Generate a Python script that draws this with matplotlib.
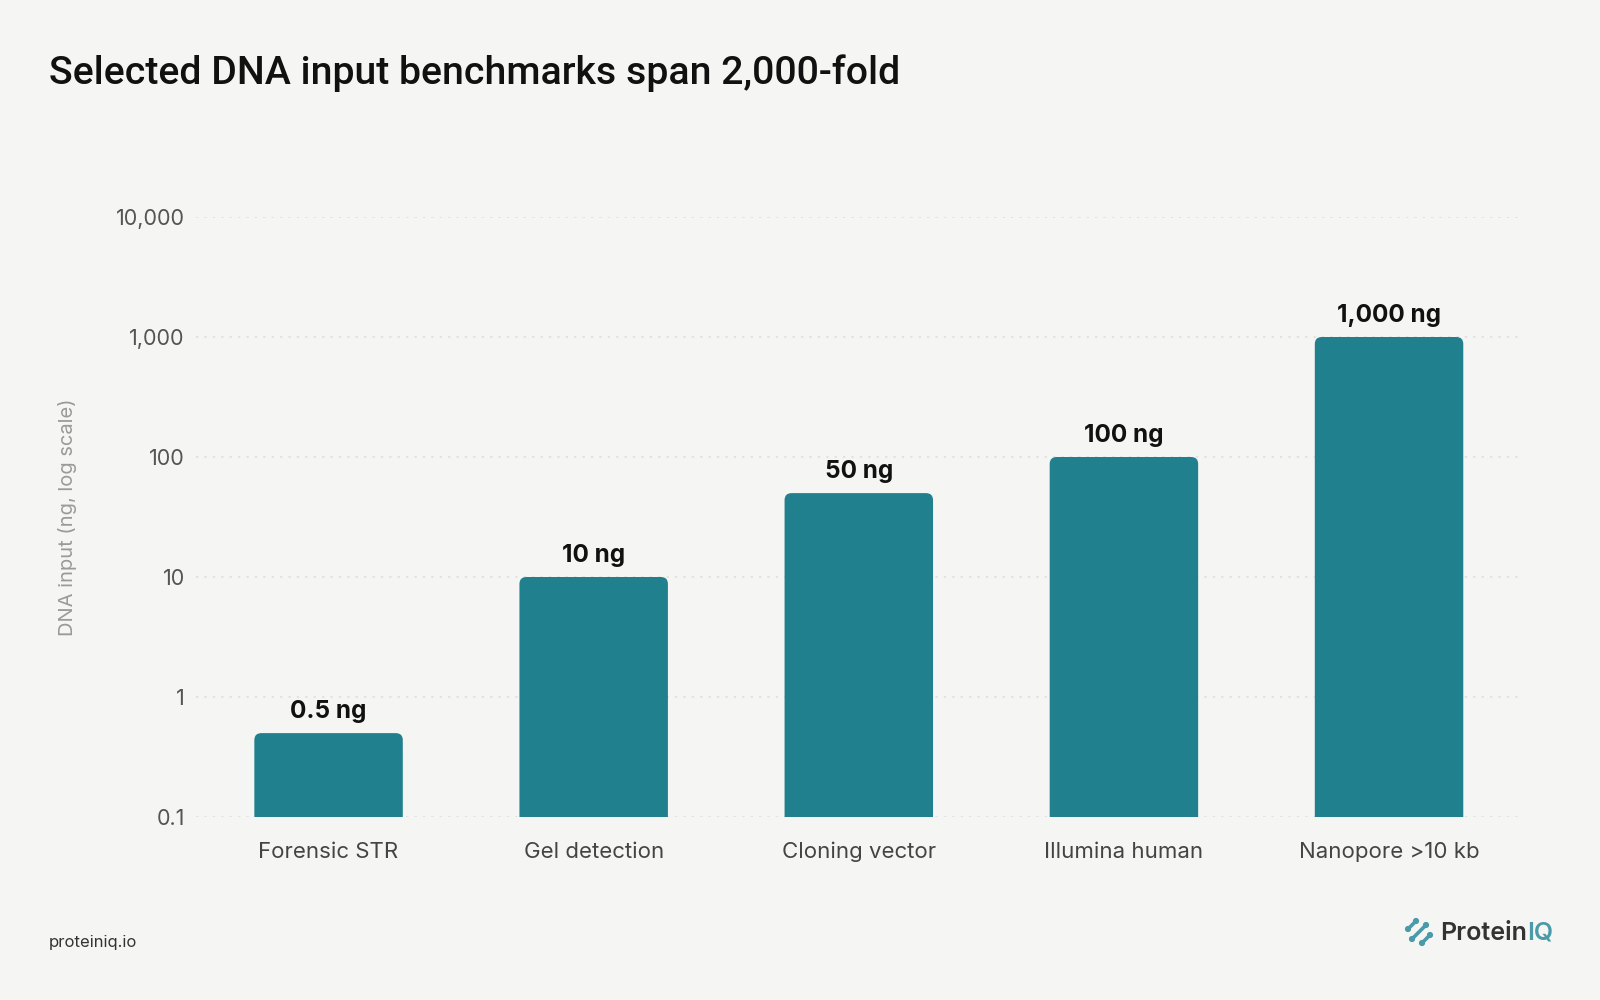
import numpy as np
import matplotlib.pyplot as plt
from matplotlib.patches import FancyBboxPatch
from matplotlib.ticker import FixedLocator, NullLocator

plt.rcParams['font.family'] = ['Inter', 'DejaVu Sans']

# --- data ---
categories = ['Forensic STR', 'Gel detection', 'Cloning vector', 'Illumina human', 'Nanopore >10 kb']
values = [0.5, 10, 50, 100, 1000]
value_labels = ['0.5 ng', '10 ng', '50 ng', '100 ng', '1,000 ng']
yticks = [0.1, 1, 10, 100, 1000, 10000]
ytick_labels = ['0.1', '1', '10', '100', '1,000', '10,000']

BG = '#f5f5f3'
BAR = '#21808d'
BASE = 0.1

fig = plt.figure(figsize=(16, 10), dpi=100)
fig.patch.set_facecolor(BG)
ax = fig.add_axes([0.1225, 0.183, 0.8285, 0.600])
ax.set_facecolor(BG)

ax.set_yscale('log')
ax.set_ylim(BASE, 10000)
ax.set_xlim(-0.5, len(categories) - 0.5)

ax.yaxis.set_major_locator(FixedLocator(yticks))
ax.yaxis.set_minor_locator(NullLocator())
ax.set_yticklabels(ytick_labels, fontsize=15.5, color='#555555')
ax.set_xticks(range(len(categories)))
ax.set_xticklabels(categories, fontsize=16, color='#444444', va='baseline')
ax.tick_params(axis='both', length=0)
ax.tick_params(axis='y', pad=8)
ax.tick_params(axis='x', pad=29.5)

for s in ax.spines.values():
    s.set_visible(False)

ax.grid(axis='y', color='#dddddd', linestyle=(0, (1.5, 4)), linewidth=1.1)
ax.set_axisbelow(True)

ax.set_ylabel('DNA input (ng, log scale)', fontsize=14.5, color='#9a9a9a', labelpad=28)

# bars with rounded tops (bottom squared off by clipping at the axes edge)
x = np.arange(len(categories))
heights = [v - BASE for v in values]
bars = ax.bar(x, heights, width=0.56, bottom=BASE, color=BAR)
r = 7
for b in bars:
    (x0, y0), (x1, y1) = ax.transData.transform([(b.get_x(), b.get_y()),
                                                 (b.get_x() + b.get_width(), b.get_y() + b.get_height())])
    b.set_visible(False)
    p = FancyBboxPatch((x0, y0 - 2 * r), x1 - x0, y1 - y0 + 2 * r,
                       boxstyle=f'round,pad=0,rounding_size={r}',
                       transform=None, facecolor=BAR, edgecolor='none', zorder=3)
    p.set_clip_path(ax.patch)
    fig.add_artist(p)

for i, (v, lab) in enumerate(zip(values, value_labels)):
    ax.annotate(lab, (i, v), xytext=(0, 7), textcoords='offset points',
                ha='center', va='bottom', fontsize=17.5, fontweight='bold', color='#111111')

fig.text(0.0305, 0.927, 'Selected DNA input benchmarks span 2,000-fold',
         fontsize=28.3, fontweight='medium', color='#111111', ha='left', va='center',
         family=['Roboto', 'DejaVu Sans'])

fig.text(0.0305, 0.058, 'proteiniq.io', fontsize=12, color='#333333', ha='left', va='center')

# ProteinIQ logo
t1 = fig.text(0.900, 0.067, 'Protein', fontsize=18, fontweight='semibold', color='#333333',
              ha='left', va='center')
fig.canvas.draw()
bb = t1.get_window_extent()
fig.text(bb.x1 / fig.bbox.width, 0.067, 'IQ', fontsize=18, fontweight='semibold', color='#4a9aa8',
         ha='left', va='center')

ic = '#4a9aa8'
cx, cy = 1419, 68
for k, half in ((-7, 4), (0, 7), (7, 4)):
    mx, my = cx + k, cy - k
    xa, ya = mx - half, my - half
    xb, yb = mx + half, my + half
    fig.add_artist(plt.Line2D([xa, xb], [ya, yb], transform=None, color=ic, linewidth=2.6,
                              solid_capstyle='round'))
    for (xx, yy) in ((xa, ya), (xb, yb)):
        fig.add_artist(plt.Circle((xx, yy), 2.4, transform=None, color=ic))

fig.savefig('out.png', dpi=100, facecolor=BG)
